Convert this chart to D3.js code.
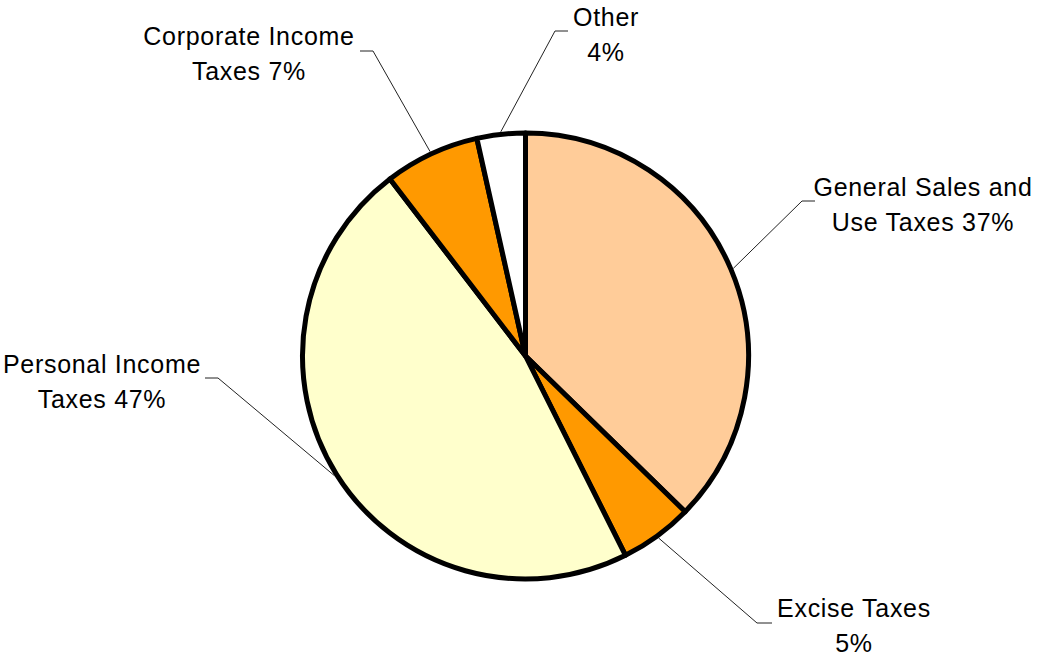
<!DOCTYPE html>
<html>
<head>
<meta charset="utf-8">
<script src="https://cdn.jsdelivr.net/npm/d3@7"></script>
<style>
  html, body { margin: 0; padding: 0; background: #fff; }
  svg { display: block; }
  text { font-family: "Liberation Sans", Arial, sans-serif; fill: #000; }
</style>
</head>
<body>
<svg id="chart" width="1041" height="656"></svg>
<script>
// Tax revenue shares, clockwise from 12 o'clock
const categories = ["General Sales and Use Taxes", "Excise Taxes", "Personal Income Taxes", "Corporate Income Taxes", "Other"];
const shares = [37.3, 5.3, 47.0, 6.9, 3.5];
const labelLines = [
  ["General Sales and", "Use Taxes"],
  ["Excise Taxes", ""],
  ["Personal Income", "Taxes"],
  ["Corporate Income", "Taxes"],
  ["Other", ""]
];
const colors = ["#FFCC99", "#FF9900", "#FFFFCC", "#FF9900", "#FFFFFF"];

// Label placement: leader elbow, end of the short horizontal tick, text centre and first baseline
const labelLayout = [
  { elbow: [802, 201], end: 815, tx: 923, ty: 196 },
  { elbow: [757, 623], end: 772, tx: 854, ty: 617 },
  { elbow: [218, 378], end: 205, tx: 102, ty: 373 },
  { elbow: [373, 51],  end: 360, tx: 249, ty: 45 },
  { elbow: [555, 31],  end: 568, tx: 606, ty: 26 }
];

const cx = 525.5, cy = 356, radius = 223;
const lineGap = 35;

const svg = d3.select("#chart");
const data = categories.map((c, i) => ({ name: c, value: shares[i], i }));
const total = d3.sum(shares);

const pie = d3.pie().sort(null).value(d => d.value).startAngle(0).endAngle(2 * Math.PI);
const arcs = pie(data);
const arc = d3.arc().innerRadius(0).outerRadius(radius);

const g = svg.append("g").attr("transform", `translate(${cx},${cy})`);

g.selectAll("path.slice")
  .data(arcs)
  .join("path")
  .attr("class", "slice")
  .attr("d", arc)
  .attr("fill", d => colors[d.data.i])
  .attr("stroke", "#000")
  .attr("stroke-width", 5)
  .attr("stroke-linejoin", "round");

// Leader lines from slice edge to label
const leaders = svg.append("g");
arcs.forEach(d => {
  const L = labelLayout[d.data.i];
  const mid = (d.startAngle + d.endAngle) / 2;
  const r = radius + 2.5;
  const sx = cx + r * Math.sin(mid);
  const sy = cy - r * Math.cos(mid);
  leaders.append("polyline")
    .attr("points", `${sx},${sy} ${L.elbow[0]},${L.elbow[1]} ${L.end},${L.elbow[1]}`)
    .attr("fill", "none")
    .attr("stroke", "#222")
    .attr("stroke-width", 1);
});

// Labels with rounded percentages
const labels = svg.append("g");
arcs.forEach(d => {
  const L = labelLayout[d.data.i];
  const pct = Math.round(d.data.value / total * 100) + "%";
  const lines = labelLines[d.data.i].slice();
  const last = lines.length - 1;
  lines[last] = (lines[last] ? lines[last] + " " : "") + pct;
  const t = labels.append("text")
    .attr("text-anchor", "middle")
    .attr("font-size", 25)
    .attr("letter-spacing", 0.7);
  lines.forEach((s, k) => {
    t.append("tspan").attr("x", L.tx).attr("y", L.ty + k * lineGap).text(s);
  });
});
</script>
</body>
</html>
